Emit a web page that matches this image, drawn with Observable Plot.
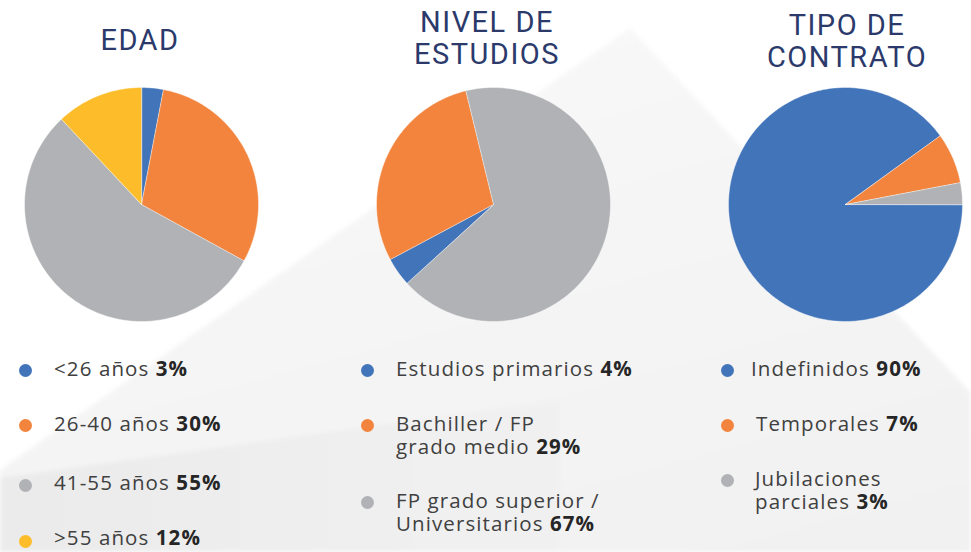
<!DOCTYPE html>
<html>
<head>
<meta charset="utf-8">
<script src="https://cdn.jsdelivr.net/npm/d3@7"></script>
<script src="https://cdn.jsdelivr.net/npm/@observablehq/plot@0.6"></script>
<style>
  html, body { margin: 0; padding: 0; background: #ffffff; }
  #wrap { position: relative; width: 971px; height: 552px; overflow: hidden; background: #ffffff; font-family: "Open Sans", sans-serif; }
  #bgwrap { position: absolute; left: 0; top: 0; width: 971px; height: 552px; filter: blur(2px); }
  #bg { position: absolute; left: 0; top: 0; width: 971px; height: 552px;
        clip-path: polygon(630px 28px, 971px 393px, 971px 552px, 0px 552px, 0px 470px);
        background: linear-gradient(165deg, #fbfbfb 0%, #f6f6f6 40%, #f1f1f1 100%); }
  #bg2 { position: absolute; left: 0; top: 0; width: 971px; height: 552px;
        clip-path: polygon(0px 478px, 330px 432px, 560px 400px, 560px 552px, 0px 552px);
        background: linear-gradient(90deg, #ebebeb 0%, #f0f0f0 45%, rgba(242,242,242,0) 100%); }
  .title { position: absolute; width: 300px; text-align: center; color: #2b3a6b;
           font-family: Roboto, sans-serif; font-size: 29px; line-height: 32px; letter-spacing: 1.5px; font-weight: 400; }
  .pie { position: absolute; top: 84px; }
  .leg { position: absolute; font-size: 20.5px; line-height: 23px; color: #404040; letter-spacing: 1.1px; white-space: nowrap; }
  .leg b { color: #262626; font-weight: 700; }
  .dot { position: absolute; width: 13px; height: 13px; border-radius: 50%; }
</style>
</head>
<body>
<div id="wrap">
  <div id="bgwrap"><div id="bg"></div><div id="bg2"></div></div>
</div>
<script>
// ---- data ----
const edadLabels = ["<26 años", "26-40 años", "41-55 años", ">55 años"];
const edadValues = [3, 30, 55, 12];
const estudiosLabels = ["Estudios primarios", "Bachiller / FP<br>grado medio", "FP grado superior /<br>Universitarios"];
const estudiosValues = [4, 29, 67];
const contratoLabels = ["Indefinidos", "Temporales", "Jubilaciones<br>parciales"];
const contratoValues = [90, 7, 3];
const titles = ["EDAD", "NIVEL DE<br>ESTUDIOS", "TIPO DE<br>CONTRATO"];
const palette = ["#4274b9", "#f2843d", "#b1b2b5", "#fdbd2a"];

const wrap = document.getElementById("wrap");

function slicePoints(values, startDeg) {
  const s = startDeg * Math.PI / 180;
  const arcs = d3.pie().sort(null).startAngle(s).endAngle(s + 2 * Math.PI)(values);
  const pts = [];
  arcs.forEach((a, i) => {
    pts.push({key: i, x: 0, y: 0, color: palette[i]});
    const n = Math.max(2, Math.ceil((a.endAngle - a.startAngle) / (Math.PI / 180)));
    for (let k = 0; k <= n; k++) {
      const t = a.startAngle + (a.endAngle - a.startAngle) * k / n;
      pts.push({key: i, x: Math.sin(t), y: Math.cos(t), color: palette[i]});
    }
  });
  return pts;
}

function pie(values, startDeg, left) {
  const chart = Plot.plot({
    width: 240, height: 240, margin: 3,
    x: {domain: [-1, 1], axis: null},
    y: {domain: [-1, 1], axis: null},
    color: {type: "identity"},
    style: {background: "transparent", overflow: "visible"},
    marks: [
      Plot.line(slicePoints(values, startDeg), {
        x: "x", y: "y", z: "key", fill: "color",
        stroke: "#ffffff", strokeWidth: 0.6, strokeOpacity: 0.7, curve: "linear-closed"
      })
    ]
  });
  chart.classList.add("pie");
  chart.style.left = left + "px";
  wrap.appendChild(chart);
}

pie(edadValues, 0, 21);
pie(estudiosValues, 227.5, 373);
pie(contratoValues, 90, 725);

// titles
[[titles[0], -10, 24], [titles[1], 337, 6], [titles[2], 697, 9]].forEach(([t, l, top]) => {
  const d = document.createElement("div");
  d.className = "title";
  d.innerHTML = t;
  d.style.left = l + "px";
  d.style.top = top + "px";
  wrap.appendChild(d);
});

// legends
function legend(labels, values, dotX, textX, rows) {
  labels.forEach((lab, i) => {
    const r = rows[i];
    const dot = document.createElement("div");
    dot.className = "dot";
    dot.style.background = palette[i];
    dot.style.left = (dotX - 6.5) + "px";
    dot.style.top = (r.dot - 6.5) + "px";
    wrap.appendChild(dot);
    const tx = document.createElement("div");
    tx.className = "leg";
    tx.style.left = (textX + (r.dx || 0)) + "px";
    tx.style.top = (r.top) + "px";
    tx.innerHTML = lab + " <b>" + values[i] + "%</b>";
    wrap.appendChild(tx);
  });
}
legend(edadLabels, edadValues, 25, 54,
  [{dot: 370, top: 357}, {dot: 425, top: 412}, {dot: 485, top: 471}, {dot: 541, top: 526}]);
legend(estudiosLabels, estudiosValues, 367, 396,
  [{dot: 370, top: 357}, {dot: 425, top: 412}, {dot: 502, top: 489}]);
legend(contratoLabels, contratoValues, 727, 751,
  [{dot: 370, top: 357}, {dot: 425, top: 412, dx: 5}, {dot: 480, top: 467, dx: 4}]);
</script>
</body>
</html>
